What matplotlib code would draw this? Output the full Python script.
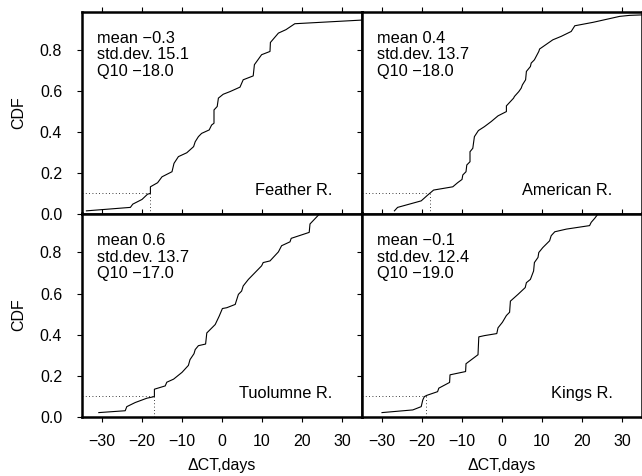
import matplotlib

matplotlib.use("Agg")
import matplotlib.pyplot as plt
from matplotlib.ticker import FormatStrFormatter

plt.rcParams["font.family"] = ["Liberation Sans", "DejaVu Sans"]
plt.rcParams["font.size"] = 11.5

# CDF curves: change in centroid timing (days) vs CDF
feather_dct = [-33.9, -22.9, -22.3, -20.0, -18.6, -17.9, -17.9, -16.1, -15.0, -12.5,
               -12.0, -10.9, -8.8, -7.1, -6.7, -5.9, -5.1, -3.2, -2.6, -2.0, -2.0,
               -1.2, -0.9, 0.3, 2.0, 4.5, 5.3, 7.8, 8.1, 9.9, 12.0, 12.1, 14.1, 16.0,
               18.2, 36.0]
feather_cdf = [0.013, 0.030, 0.046, 0.069, 0.095, 0.098, 0.131, 0.151, 0.180, 0.205,
               0.246, 0.279, 0.298, 0.328, 0.352, 0.377, 0.393, 0.410, 0.434, 0.443, 0.508,
               0.525, 0.566, 0.585, 0.598, 0.620, 0.656, 0.675, 0.730, 0.779, 0.795, 0.839,
               0.885, 0.902, 0.931, 0.950]

american_dct = [-26.9, -26.1, -20.2, -18.6, -17.1, -12.3, -11.1, -10.0, -9.8, -9.0,
                -8.8, -8.0, -8.0, -7.3, -6.9, -5.9, -4.4, -2.7, -1.0, 1.1, 1.1, 2.9,
                3.1, 4.2, 4.8, 5.1, 5.9, 6.1, 7.1, 7.3, 8.1, 9.2, 9.4, 12.7, 14.8, 17.3,
                18.2, 22.8, 29.4, 31.9, 36.0]
american_cdf = [0.013, 0.030, 0.062, 0.090, 0.115, 0.131, 0.151, 0.167, 0.189, 0.205,
                0.238, 0.254, 0.303, 0.320, 0.377, 0.407, 0.426, 0.451, 0.479, 0.500,
                0.528, 0.566, 0.574, 0.598, 0.615, 0.631, 0.656, 0.697, 0.721, 0.738,
                0.754, 0.795, 0.807, 0.852, 0.869, 0.893, 0.921, 0.938, 0.967, 0.972,
                0.975]

tuolumne_dct = [-30.8, -24.2, -23.8, -21.7, -18.8, -16.9, -16.9, -14.2, -13.8, -12.1,
                -10.0, -8.4, -8.0, -7.0, -6.7, -5.9, -4.1, -3.8, -1.7, -0.7, 0.1, 1.2,
                3.3, 4.1, 4.9, 5.3, 6.6, 9.9, 10.3, 12.0, 14.1, 14.9, 17.0, 17.3, 21.8,
                22.0, 24.0, 25.0]
tuolumne_cdf = [0.020, 0.029, 0.049, 0.069, 0.090, 0.098, 0.134, 0.150, 0.168, 0.183,
                0.216, 0.250, 0.278, 0.307, 0.327, 0.346, 0.354, 0.408, 0.449, 0.490,
                0.527, 0.531, 0.547, 0.596, 0.612, 0.637, 0.669, 0.735, 0.751, 0.759,
                0.803, 0.833, 0.852, 0.869, 0.898, 0.939, 0.980, 1.000]

kings_dct = [-30.0, -22.3, -20.2, -19.8, -19.4, -18.8, -16.1, -15.8, -13.1, -13.0,
             -9.1, -9.0, -6.0, -5.8, -4.4, -1.3, -1.0, 0.1, 1.1, 1.9, 2.1, 4.0, 5.8,
             6.1, 7.1, 7.9, 8.1, 9.0, 9.2, 10.2, 11.9, 12.3, 13.2, 16.1, 21.9, 22.3,
             23.2, 24.0, 24.6]
kings_cdf = [0.020, 0.033, 0.049, 0.082, 0.098, 0.104, 0.122, 0.139, 0.167, 0.204,
             0.220, 0.258, 0.302, 0.389, 0.395, 0.405, 0.433, 0.460, 0.493, 0.509,
             0.563, 0.596, 0.629, 0.653, 0.669, 0.710, 0.751, 0.776, 0.800, 0.824,
             0.857, 0.882, 0.901, 0.914, 0.931, 0.947, 0.967, 0.988, 1.000]

river_names = ["Feather R.", "American R.", "Tuolumne R.", "Kings R."]
river_means = [-0.3, 0.4, 0.6, -0.1]
river_stds = [15.1, 13.7, 13.7, 12.4]
river_q10 = [-18.0, -18.0, -17.0, -19.0]

x_ticks = [-30, -20, -10, 0, 10, 20, 30]
y_ticks = [0.0, 0.2, 0.4, 0.6, 0.8]

FIG_W, FIG_H = 642, 476


def fmt(value, pattern="{:.1f}"):
    """Format a number with a proper minus sign."""
    return pattern.format(value).replace("-", "\u2212")


def panel_axes(fig, left, top, right, bottom):
    """Add axes given pixel edges measured from the top-left corner."""
    return fig.add_axes([
        left / FIG_W,
        1 - bottom / FIG_H,
        (right - left) / FIG_W,
        (bottom - top) / FIG_H,
    ])


def draw_panel(ax, dct, cdf, name, mean, std, q10, show_x, show_y):
    ax.plot(dct, cdf, color="black", lw=0.8, solid_joinstyle="miter")

    ax.plot([-35, q10], [0.1, 0.1], color="black", lw=0.6, ls=(0, (1, 3)))
    ax.plot([q10, q10], [0.0, 0.1], color="black", lw=0.6, ls=(0, (1, 3)))

    ax.set_xlim(-35, 35)
    ax.set_ylim(0, 0.99)
    ax.set_xticks(x_ticks)
    ax.set_yticks(y_ticks)
    ax.yaxis.set_major_formatter(FormatStrFormatter("%.1f"))

    ax.tick_params(direction="out", length=3.3, width=0.8,
                   top=True, bottom=True, left=True, right=False,
                   labelbottom=show_x, labelleft=show_y)
    ax.tick_params(axis="x", pad=9.3)
    ax.tick_params(axis="y", pad=11.0)

    for spine in ax.spines.values():
        spine.set_linewidth(1.8)

    lines = [
        f"mean {fmt(mean)}",
        f"std.dev. {fmt(std)}",
        f"Q10 {fmt(q10)}",
    ]
    for i, line in enumerate(lines):
        ax.text(0.053, 0.846 - i * 0.0825, line, transform=ax.transAxes,
                ha="left", va="baseline", fontsize=11.8)

    ax.text(0.895, 0.093, name, transform=ax.transAxes,
            ha="right", va="baseline", fontsize=11.8)

    if show_x:
        ax.set_xlabel("\u0394CT,days", labelpad=6)
    if show_y:
        ax.set_ylabel("CDF", labelpad=9.5)


fig = plt.figure(figsize=(FIG_W / 100, FIG_H / 100), dpi=100)

curves = [
    (feather_dct, feather_cdf),
    (american_dct, american_cdf),
    (tuolumne_dct, tuolumne_cdf),
    (kings_dct, kings_cdf),
]
edges = [
    (82, 11.7, 362, 213.5),
    (362, 11.7, 642, 213.5),
    (82, 213.5, 362, 416.7),
    (362, 213.5, 642, 416.7),
]

for i, ((dct, cdf), box) in enumerate(zip(curves, edges)):
    ax = panel_axes(fig, *box)
    draw_panel(ax, dct, cdf, river_names[i], river_means[i], river_stds[i],
               river_q10[i], show_x=i >= 2, show_y=i % 2 == 0)

fig.savefig("out.png", dpi=100)
